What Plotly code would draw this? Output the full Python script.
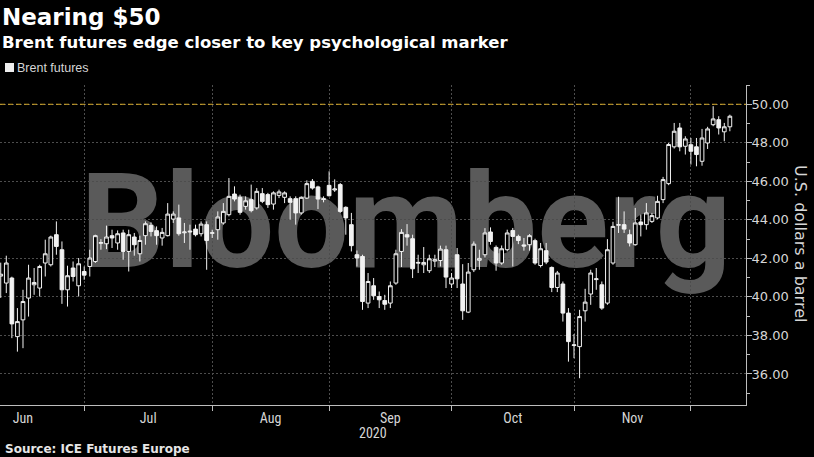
import numpy as np
import pandas as pd
import plotly.graph_objects as go

# ---------------- data ----------------
start_date = "2020-06-09"
end_date = "2020-12-09"
dates = pd.bdate_range(start_date, end_date)

open_ = [41.08, 40.72, 40.98, 37.94, 38.81, 39.94, 40.63, 40.46, 41.76, 41.67,
         43.23, 42.45, 40.37, 41.50, 40.58, 41.32, 41.58, 41.84, 42.78, 42.76,
         43.18, 42.80, 43.32, 42.36, 43.11, 42.24, 43.18, 43.71, 43.44, 43.06,
         43.18, 44.04, 44.10, 43.33, 43.42, 43.52, 43.28, 43.75, 43.30, 43.49,
         43.84, 44.27, 45.34, 45.17, 44.70, 45.05, 44.62, 45.36, 45.31, 44.82,
         45.27, 45.17, 45.10, 45.10, 44.36, 45.13, 46.00, 45.71, 45.10, 45.79,
         45.55, 45.83, 44.65, 43.75, 42.19, 42.10, 39.68, 40.58, 40.02, 39.81,
         39.68, 40.72, 42.36, 43.23, 43.02, 41.75, 41.67, 41.36, 41.86, 41.89,
         42.45, 40.67, 42.19, 40.67, 39.21, 41.41, 41.90, 42.19, 43.37, 42.57,
         41.76, 42.45, 43.45, 43.14, 42.70, 42.71, 42.92, 41.63, 42.40, 41.53,
         40.49, 40.67, 39.16, 37.48, 37.42, 39.28, 40.15, 40.90, 40.63, 39.68,
         41.76, 43.72, 43.75, 43.23, 42.71, 43.89, 43.75, 43.92, 44.10, 45.05,
         45.88, 47.79, 48.77, 47.82, 47.90, 47.79, 47.04, 47.99, 48.94, 49.20,
         48.57, 48.83]
high = [41.78, 42.14, 41.05, 39.42, 40.37, 41.67, 41.50, 41.67, 42.97, 43.18,
        43.92, 42.88, 41.62, 41.84, 42.02, 41.58, 42.45, 43.23, 43.00, 43.70,
        43.49, 43.45, 43.49, 43.49, 43.32, 43.18, 43.92, 43.87, 43.66, 43.58,
        44.87, 44.44, 44.79, 43.84, 43.75, 43.75, 43.92, 43.92, 43.49, 44.44,
        44.87, 46.17, 45.74, 45.31, 45.22, 45.83, 45.65, 45.65, 45.40, 45.48,
        45.57, 45.48, 45.22, 45.22, 45.22, 46.05, 46.12, 45.77, 45.22, 46.52,
        46.10, 45.91, 44.70, 44.36, 42.41, 42.19, 41.24, 40.98, 40.28, 40.11,
        40.80, 42.45, 43.52, 43.78, 43.23, 42.19, 42.59, 42.19, 42.19, 42.66,
        42.66, 41.24, 42.54, 41.70, 41.76, 42.88, 42.45, 43.57, 43.61, 42.67,
        42.67, 43.49, 43.58, 43.23, 43.06, 43.26, 43.02, 42.80, 42.80, 41.58,
        41.35, 40.80, 39.42, 38.07, 39.33, 40.42, 41.41, 41.50, 40.80, 43.00,
        43.90, 45.20, 44.44, 43.49, 44.62, 44.27, 44.87, 44.36, 45.25, 46.23,
        47.99, 49.03, 49.03, 48.34, 48.25, 48.25, 48.72, 48.83, 49.90, 49.38,
        49.03, 49.46]
low = [39.95, 40.20, 37.86, 37.16, 37.34, 38.98, 40.11, 40.02, 41.06, 41.58,
       42.19, 39.64, 39.50, 40.80, 40.02, 40.89, 41.06, 41.76, 42.45, 42.48,
       42.54, 42.45, 41.93, 41.32, 42.14, 41.84, 42.71, 43.14, 42.71, 42.66,
       43.14, 43.84, 43.18, 42.80, 42.45, 43.14, 43.14, 41.41, 43.06, 42.97,
       43.75, 44.18, 44.96, 44.27, 44.53, 44.39, 44.53, 44.87, 44.62, 44.53,
       45.13, 44.87, 44.01, 43.75, 44.27, 45.08, 45.57, 44.56, 44.91, 45.22,
       45.45, 44.36, 43.23, 42.36, 41.58, 39.33, 39.42, 39.85, 39.42, 39.33,
       39.42, 40.63, 41.55, 42.66, 40.98, 41.24, 41.24, 41.24, 41.55, 41.58,
       40.46, 40.46, 40.46, 38.81, 39.16, 41.29, 41.41, 42.05, 42.71, 41.36,
       41.67, 42.36, 41.58, 42.74, 42.40, 42.40, 41.67, 41.53, 41.70, 40.25,
       40.25, 38.72, 36.64, 36.82, 35.78, 38.72, 39.59, 40.37, 39.33, 39.59,
       41.67, 43.32, 43.32, 42.62, 42.66, 43.14, 43.49, 43.84, 44.04, 44.87,
       45.80, 47.70, 47.56, 47.39, 46.87, 46.78, 46.81, 47.68, 48.86, 48.43,
       48.08, 48.60]
close = [41.18, 41.76, 38.60, 38.72, 39.76, 40.98, 40.75, 41.58, 42.24, 43.11,
         42.62, 40.37, 41.10, 41.06, 41.72, 41.13, 42.02, 43.18, 42.82, 43.11,
         43.06, 43.28, 42.36, 43.23, 42.71, 42.93, 43.80, 43.40, 43.18, 43.35,
         44.30, 44.30, 43.28, 43.37, 43.38, 43.23, 43.78, 42.93, 43.33, 44.15,
         44.44, 45.22, 45.08, 44.39, 44.99, 44.48, 45.48, 44.96, 44.79, 45.40,
         45.45, 45.40, 44.91, 44.36, 45.17, 45.88, 45.65, 45.08, 45.06, 45.25,
         45.60, 44.44, 44.10, 42.66, 42.02, 39.76, 40.80, 40.06, 39.85, 39.62,
         40.58, 42.24, 43.35, 43.11, 41.46, 41.79, 41.79, 41.98, 41.93, 42.48,
         41.03, 40.98, 40.94, 39.28, 41.29, 42.74, 42.00, 43.32, 42.88, 41.76,
         42.50, 43.32, 43.14, 42.93, 42.64, 43.18, 41.76, 42.50, 41.81, 40.49,
         41.24, 39.16, 37.68, 37.51, 38.98, 39.73, 41.24, 40.94, 39.42, 42.45,
         43.66, 43.75, 43.52, 42.80, 43.84, 43.75, 44.36, 44.22, 44.96, 46.09,
         47.91, 48.60, 47.79, 48.20, 47.56, 47.39, 48.25, 48.72, 49.24, 48.77,
         48.83, 49.38]

title_text = "Nearing $50"
subtitle_text = "Brent futures edge closer to key psychological marker"
series_name = "Brent futures"
source_text = "Source: ICE Futures Europe"
y_title = "U.S. dollars a barrel"
watermark_text = "Bloomberg"
year_text = "2020"
key_level = 50

# ---------------- x positions (trading-day index, candle at day close) ----------------
x = np.arange(len(dates))
cal = pd.bdate_range("2020-05-01", "2020-12-31")
base = cal.get_loc(dates[0])
periods = pd.period_range(dates[0].to_period("M"), dates[-1].to_period("M"), freq="M")
bounds = []
for p in list(periods) + [periods[-1] + 1]:
    last_prev = cal[cal < p.start_time][-1]
    bounds.append(cal.get_loc(last_prev) - base)
label_pos = [(bounds[k] + bounds[k + 1]) / 2 for k in range(len(periods))]
label_txt = [p.strftime("%b") for p in periods]

# ---------------- figure ----------------
W, H = 814, 457
ML, MR, MT, MB = 0, 68, 85, 52
PW, PH = W - ML - MR, H - MT - MB


def py(pixel_y):
    return (H - MB - pixel_y) / PH


def px(pixel_x):
    return (pixel_x - ML) / PW


fig = go.Figure()
fig.add_trace(go.Candlestick(
    x=x, open=open_, high=high, low=low, close=close,
    increasing=dict(line=dict(color="#f2f2f2", width=1), fillcolor="#000000"),
    decreasing=dict(line=dict(color="#f2f2f2", width=1), fillcolor="#f2f2f2"),
    whiskerwidth=0, showlegend=False, hoverinfo="skip", name=series_name,
))

grid_col = "#4d4d4d"
axis_col = "#bdbdbd"
tick_font = dict(family="DejaVu Sans", size=13, color="#d6d6d6")
month_font = dict(family="Liberation Sans Narrow, Roboto Condensed, Liberation Sans, sans-serif",
                  size=14, color="#d6d6d6")

fig.update_layout(
    width=W, height=H,
    margin=dict(l=ML, r=MR, t=MT, b=MB),
    paper_bgcolor="#000000", plot_bgcolor="#000000",
    showlegend=False,
    boxgap=0.3, boxgroupgap=0.05,
    xaxis=dict(
        range=[-0.13, 133.9], rangeslider=dict(visible=False),
        tickmode="array", tickvals=label_pos, ticktext=label_txt,
        ticks="", showgrid=False, zeroline=False,
        showline=True, linecolor=axis_col, linewidth=1,
        tickfont=month_font,
        minor=dict(tickmode="array", tickvals=bounds, ticks="outside", ticklen=5,
                   tickcolor=axis_col, showgrid=True, gridcolor=grid_col,
                   griddash="2px,2px", gridwidth=1),
    ),
    yaxis=dict(
        side="right", range=[34.39, 51.0],
        tick0=0, dtick=2, tickformat=".2f",
        ticks="outside", ticklen=5, tickcolor=axis_col, ticklabelstandoff=-3,
        showgrid=True, gridcolor=grid_col, griddash="2px,2px", gridwidth=1,
        zeroline=False, showline=True, linecolor=axis_col, linewidth=1,
        tickfont=tick_font,
        minor=dict(dtick=1, ticks="outside", ticklen=3, tickcolor=axis_col, showgrid=False),
    ),
)

# watermark (below grid)
fig.add_shape(
    type="rect", xref="paper", yref="paper",
    x0=0.20, x1=0.888, y0=0.412, y1=0.792,
    line=dict(width=0), fillcolor="rgba(0,0,0,0)", layer="below",
    label=dict(text=watermark_text, textposition="middle center",
               font=dict(family="Roboto", size=132, color="#5a5a5a", weight=700)),
)

# key level line
fig.add_shape(type="line", xref="paper", yref="y", x0=0, x1=1,
              y0=key_level, y1=key_level,
              line=dict(color="#d6a92a", width=1, dash="5px,3px"))

# legend square
fig.add_shape(type="rect", xref="paper", yref="paper",
              x0=px(5), x1=px(14), y0=py(72), y1=py(63),
              line=dict(width=0), fillcolor="#eeeeee")

ann = [
    dict(text=f"<b>{title_text}</b>", x=px(0), y=py(17), xanchor="left", yanchor="middle",
         font=dict(family="DejaVu Sans", size=23, color="#ffffff")),
    dict(text=f"<b>{subtitle_text}</b>", x=px(0), y=py(42), xanchor="left", yanchor="middle",
         font=dict(family="DejaVu Sans", size=16.5, color="#ffffff")),
    dict(text=series_name, x=px(15), y=py(68), xanchor="left", yanchor="middle",
         font=dict(family="Liberation Sans", size=12.5, color="#d6d6d6")),
    dict(text=f"<b>{source_text}</b>", x=px(3), y=py(449), xanchor="left", yanchor="middle",
         font=dict(family="DejaVu Sans", size=12, color="#e6e6e6")),
    dict(text=year_text, x=px(373), y=py(433), xanchor="center", yanchor="middle",
         font=month_font),
    dict(text=y_title, x=px(801), y=py(243), xanchor="center", yanchor="middle",
         textangle=90, font=dict(family="DejaVu Sans", size=16, color="#d6d6d6")),
]
for a in ann:
    a.update(xref="paper", yref="paper", showarrow=False)
    fig.add_annotation(**a)

fig.write_html("out.html",
               config={"displayModeBar": False},
               post_script="document.body.style.margin='0';document.body.style.padding='0';")
